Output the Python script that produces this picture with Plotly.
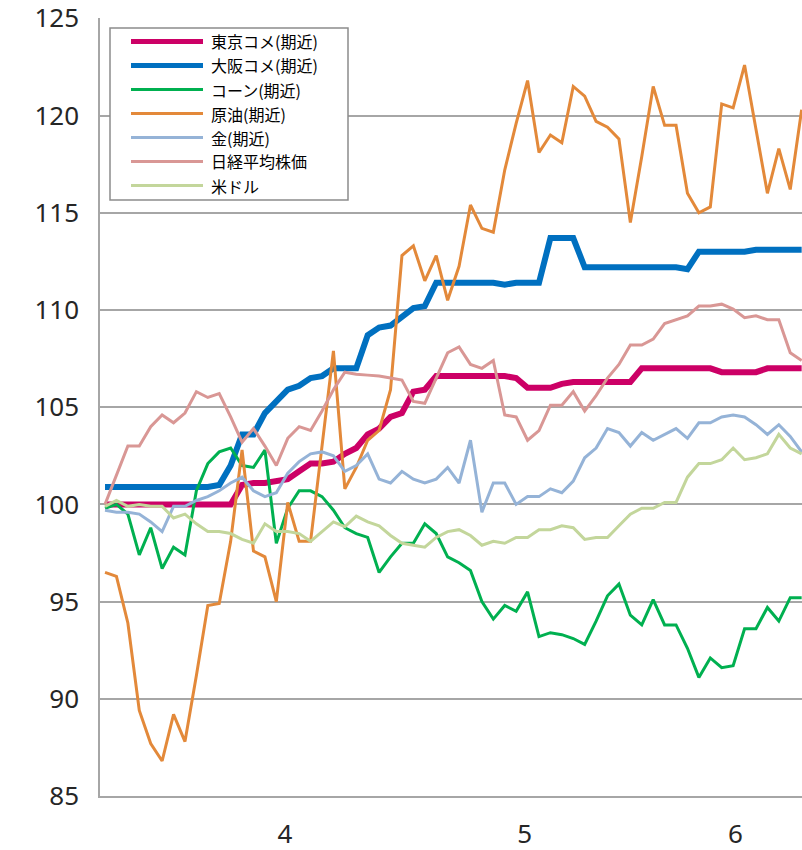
import plotly.graph_objects as go

# ---- data (index = 100 basis), one value per trading day ----
series_names = ["東京コメ(期近)", "大阪コメ(期近)", "コーン(期近)", "原油(期近)",
                "金(期近)", "日経平均株価", "米ドル"]

tokyo_rice = [100.0] * 12 + [
    101.0, 101.1, 101.1, 101.2, 101.3, 101.7, 102.1, 102.1, 102.2, 102.6,
    102.9, 103.6, 103.9, 104.5, 104.7, 105.8, 105.9, 106.6, 106.6, 106.6,
    106.6, 106.6, 106.6, 106.6, 106.5, 106.0, 106.0, 106.0, 106.2, 106.3,
    106.3, 106.3, 106.3, 106.3, 106.3, 107.0, 107.0, 107.0, 107.0, 107.0,
    107.0, 107.0, 106.8, 106.8, 106.8, 106.8, 107.0, 107.0, 107.0, 107.0]

osaka_rice = [100.9] * 10 + [
    101.0, 102.0, 103.6, 103.6, 104.7, 105.3, 105.9, 106.1, 106.5, 106.6,
    107.0, 107.0, 107.0, 108.7, 109.1, 109.2, 109.7, 110.1, 110.2, 111.4,
    111.4, 111.4, 111.4, 111.4, 111.4, 111.3, 111.4, 111.4, 111.4, 113.7,
    113.7, 113.7, 112.2, 112.2, 112.2, 112.2, 112.2, 112.2, 112.2, 112.2,
    112.2, 112.1, 113.0, 113.0, 113.0, 113.0, 113.0, 113.1, 113.1, 113.1,
    113.1, 113.1]

corn = [
    99.8, 100.0, 99.5, 97.4, 98.8, 96.7, 97.8, 97.4, 100.7, 102.1,
    102.7, 102.9, 102.0, 101.9, 102.8, 98.0, 99.8, 100.7, 100.7, 100.4,
    99.7, 98.8, 98.5, 98.3, 96.5, 97.3, 98.0, 98.0, 99.0, 98.5,
    97.3, 97.0, 96.6, 95.0, 94.1, 94.8, 94.5, 95.5, 93.2, 93.4,
    93.3, 93.1, 92.8, 94.0, 95.3, 95.9, 94.3, 93.8, 95.1, 93.8,
    93.8, 92.6, 91.1, 92.1, 91.6, 91.7, 93.6, 93.6, 94.7, 94.0,
    95.2, 95.2]

crude = [
    96.5, 96.3, 93.9, 89.4, 87.7, 86.8, 89.2, 87.8, 91.2, 94.8,
    94.9, 98.1, 102.8, 97.6, 97.3, 95.0, 100.1, 98.1, 98.1, 103.0,
    107.9, 100.8, 101.9, 103.3, 103.8, 105.9, 112.8, 113.3, 111.5, 112.8,
    110.5, 112.25, 115.4, 114.2, 114.0, 117.2, 119.6, 121.8, 118.1, 119.0,
    118.6, 121.5, 121.0, 119.7, 119.4, 118.8, 114.5, 117.9, 121.5, 119.5,
    119.5, 116.0, 115.0, 115.3, 120.6, 120.4, 122.6, 119.3, 116.0, 118.3,
    116.2, 120.3]

gold = [
    99.7, 99.6, 99.6, 99.5, 99.1, 98.6, 99.9, 99.9, 100.2, 100.4,
    100.7, 101.1, 101.4, 100.7, 100.4, 100.6, 101.6, 102.2, 102.6, 102.7,
    102.5, 101.7, 102.0, 102.6, 101.3, 101.1, 101.7, 101.3, 101.1, 101.3,
    101.9, 101.1, 103.3, 99.6, 101.1, 101.1, 100.0, 100.4, 100.4, 100.8,
    100.6, 101.2, 102.4, 102.9, 103.9, 103.7, 103.0, 103.7, 103.3, 103.6,
    103.9, 103.4, 104.2, 104.2, 104.5, 104.6, 104.5, 104.1, 103.6, 104.1,
    103.5, 102.7]

nikkei = [
    100.0, 101.5, 103.0, 103.0, 104.0, 104.6, 104.2, 104.7, 105.8, 105.5,
    105.7, 104.5, 103.2, 103.9, 103.0, 102.0, 103.4, 104.0, 103.8, 104.8,
    105.9, 106.8, 106.7, 106.65, 106.6, 106.5, 106.4, 105.3, 105.2, 106.5,
    107.8, 108.1, 107.2, 107.0, 107.4, 104.6, 104.5, 103.3, 103.8, 105.1,
    105.1, 105.8, 104.8, 105.6, 106.5, 107.2, 108.2, 108.2, 108.5, 109.3,
    109.5, 109.7, 110.2, 110.2, 110.3, 110.05, 109.6, 109.7, 109.5, 109.5,
    107.8, 107.4]

usd = [
    99.9, 100.2, 99.9, 100.0, 99.9, 99.9, 99.3, 99.5, 99.0, 98.6,
    98.6, 98.5, 98.2, 98.0, 99.0, 98.6, 98.6, 98.5, 98.1, 98.6,
    99.1, 98.85, 99.4, 99.1, 98.9, 98.4, 98.0, 97.9, 97.8, 98.3,
    98.6, 98.7, 98.4, 97.9, 98.1, 98.0, 98.3, 98.3, 98.7, 98.7,
    98.9, 98.8, 98.2, 98.3, 98.3, 98.9, 99.5, 99.8, 99.8, 100.1,
    100.1, 101.4, 102.1, 102.1, 102.3, 102.9, 102.3, 102.4, 102.6, 103.6,
    102.9, 102.6]

# month labels, placed at the middle of each month's group of trading days
month_labels = ["4", "5", "6"]
month_tick_pos = [15.75, 36.75, 55.2]

y_ticks = [85, 90, 95, 100, 105, 110, 115, 120, 125]

# ---- styles ----
all_series = [tokyo_rice, osaka_rice, corn, crude, gold, nikkei, usd]
colors = ["#CC0066", "#0070C0", "#00B050", "#E3893A", "#95B3D7", "#D99795", "#C3D69B"]
widths = [6, 6, 3, 3, 3, 3, 3]

fig = go.Figure()
for name, vals, c, w in zip(series_names, all_series, colors, widths):
    fig.add_trace(go.Scatter(x=list(range(len(vals))), y=vals, mode="lines", name=name,
                             line=dict(color=c, width=w), showlegend=False,
                             hoverinfo="skip"))

# plot area in pixels
W, H = 802, 850
L, R, T, B = 100, 0, 18, 54
pw, ph = W - L - R, H - T - B


def px_x(px):
    return (px - L) / pw


def px_y(py):
    return 1 - (py - T) / ph


# custom legend box (long line samples like the original)
shapes = [dict(type="rect", xref="paper", yref="paper",
               x0=px_x(110), x1=px_x(348), y0=px_y(200), y1=px_y(28),
               line=dict(color="#8C8C8C", width=1.5), fillcolor="white", layer="above")]
annotations = []
for k, (name, c, w) in enumerate(zip(series_names, colors, widths)):
    yy = 41.5 + 24.0 * k
    shapes.append(dict(type="line", xref="paper", yref="paper",
                       x0=px_x(131), x1=px_x(203), y0=px_y(yy), y1=px_y(yy),
                       line=dict(color=c, width=5 if w > 3 else 3), layer="above"))
    annotations.append(dict(xref="paper", yref="paper", x=px_x(209), y=px_y(yy),
                            text=name, showarrow=False, xanchor="left", yanchor="middle",
                            font=dict(family="Noto Sans CJK JP", size=16, color="#000000")))

fig.update_layout(
    width=W, height=H,
    margin=dict(l=L, r=R, t=T, b=B, pad=0),
    paper_bgcolor="white", plot_bgcolor="white",
    shapes=shapes, annotations=annotations,
    showlegend=False,
    xaxis=dict(range=[-0.44, 61.03], showgrid=False, zeroline=False, automargin=False,
               showline=True, linecolor="#A6A6A6", linewidth=1.5,
               tickmode="array", tickvals=month_tick_pos, ticktext=month_labels,
               ticks="", ticklabelstandoff=14, ticklabeloverflow="allow",
               tickfont=dict(family="Noto Sans", size=26, color="#262626")),
    yaxis=dict(range=[85, 125.02], tickmode="array", tickvals=y_ticks, automargin=False,
               showgrid=True, gridcolor="#A6A6A6", gridwidth=1.5, zeroline=False,
               showline=True, linecolor="#A6A6A6", linewidth=1.5,
               ticks="", ticklabelstandoff=14, ticklabeloverflow="allow",
               tickfont=dict(family="Noto Sans", size=26, color="#262626")),
)

fig.write_html("out.html", config={"displayModeBar": False},
               post_script="document.body.style.margin='0';document.body.style.overflow='hidden';")
